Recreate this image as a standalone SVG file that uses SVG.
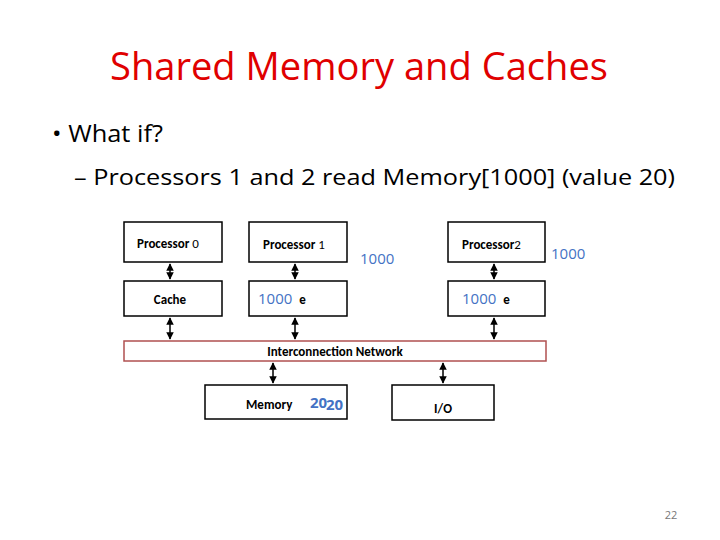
<svg xmlns="http://www.w3.org/2000/svg" width="720" height="540" viewBox="0 0 720 540">
<defs>
<marker id="a" viewBox="0 0 10 10" refX="9" refY="5" markerWidth="5" markerHeight="5" orient="auto-start-reverse"><path d="M0,0L10,5L0,10z" fill="#000"/></marker>
<style>
.b{fill:#fff;stroke:#000;stroke-width:1.5}
.t{font-family:Calibri,"Liberation Sans",sans-serif;font-size:13px;font-weight:bold;fill:#000}
.v{font-family:"Open Sans","Liberation Sans",sans-serif;font-size:15px;fill:#4472c4}
.c line{stroke:#000;stroke-width:1.5;marker-start:url(#a);marker-end:url(#a)}
</style>
</defs>
<rect width="720" height="540" fill="#fff"/>
<text x="110" y="80" textLength="498" lengthAdjust="spacingAndGlyphs" font-family="Open Sans,Liberation Sans,sans-serif" font-size="38" fill="#e00000">Shared Memory and Caches</text>
<text x="52" y="142" textLength="111" lengthAdjust="spacingAndGlyphs" font-family="Open Sans,Liberation Sans,sans-serif" font-size="24" fill="#000">• What if?</text>
<text x="74" y="185" textLength="601" lengthAdjust="spacingAndGlyphs" font-family="Open Sans,Liberation Sans,sans-serif" font-size="22" fill="#000">– Processors 1 and 2 read Memory[1000] (value  20)</text>
<g class="c">
<line x1="170" y1="264" x2="170" y2="279"/>
<line x1="170" y1="318" x2="170" y2="339"/>
<line x1="295" y1="264" x2="295" y2="279"/>
<line x1="295" y1="318" x2="295" y2="339"/>
<line x1="494" y1="264" x2="494" y2="279"/>
<line x1="494" y1="318" x2="494" y2="339"/>
<line x1="273" y1="363" x2="273" y2="383"/>
<line x1="443" y1="363" x2="443" y2="383"/>
</g>
<g id="p0"><rect class="b" x="124" y="222" width="98" height="40"/><text class="t" x="137" y="248">Processor <tspan font-weight="normal">0</tspan></text></g>
<g id="c0"><rect class="b" x="124" y="281" width="98" height="35"/><text class="t" x="170" y="304" text-anchor="middle">Cache</text></g>
<g id="p1"><rect class="b" x="249" y="222" width="98" height="40"/><text class="t" x="263" y="249">Processor<tspan font-weight="normal"> 1</tspan></text></g>
<g id="c1"><rect class="b" x="249" y="281" width="98" height="35"/><text class="v" x="258" y="304">1000 <tspan class="t" font-size="13" dx="3">e</tspan></text></g>
<text class="v" x="360" y="264">1000</text>
<g id="p2"><rect class="b" x="448" y="222" width="97" height="40"/><text class="t" x="462" y="249">Processor<tspan font-weight="normal">2</tspan></text></g>
<g id="c2"><rect class="b" x="448" y="281" width="97" height="35"/><text class="v" x="462" y="304">1000 <tspan class="t" font-size="13" dx="3">e</tspan></text></g>
<text class="v" x="551" y="259">1000</text>
<g id="net"><rect x="124" y="341" width="422" height="20" fill="#fff" stroke="#b05050" stroke-width="1.5"/><text class="t" x="335" y="356" text-anchor="middle">Interconnection Network</text></g>
<g id="mem"><rect class="b" x="205" y="385" width="142" height="34"/><text class="t" x="246" y="409">Memory</text><text class="v" x="310" y="408" font-size="16" font-weight="bold">20</text><text class="v" x="326" y="410" font-size="16" font-weight="bold">20</text></g>
<g id="io"><rect class="b" x="392" y="385" width="102" height="35"/><text class="t" x="443" y="413" text-anchor="middle">I/O</text></g>
<text x="671" y="519" text-anchor="middle" font-family="Open Sans,Liberation Sans,sans-serif" font-size="11" fill="#777">22</text>
</svg>
